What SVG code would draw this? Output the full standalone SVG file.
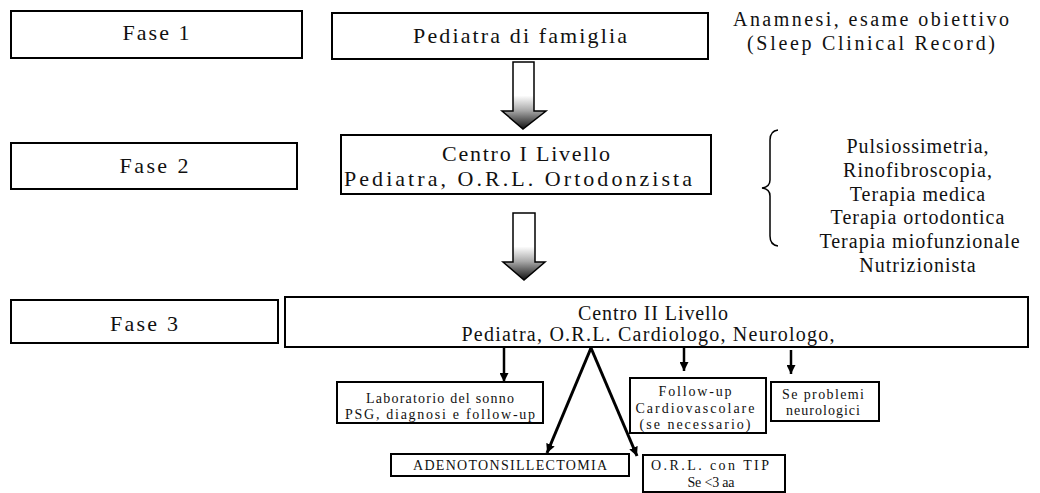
<svg xmlns="http://www.w3.org/2000/svg" width="1040" height="493" viewBox="0 0 1040 493">
<style>
.box{fill:#fff;stroke:#000;stroke-width:2}
.t{font-family:"Liberation Serif","Times New Roman",serif;fill:#111;text-anchor:middle}
.big{font-size:22px}
.mid{font-size:20px}
.sm{font-size:14px}
.ln{fill:none;stroke:#000;stroke-width:2.5}
.leg{fill:none;stroke:#000;stroke-width:3}
.fat{stroke:#000;stroke-width:1.5}
</style>
<defs>
<linearGradient id="gr" x1="0" y1="0" x2="0" y2="1">
<stop offset="0" stop-color="#fff"/>
<stop offset="0.5" stop-color="#fff"/>
<stop offset="0.72" stop-color="#aaa"/>
<stop offset="1" stop-color="#111"/>
</linearGradient>
<marker id="ah" viewBox="0 0 10 10" refX="10" refY="5" markerWidth="9" markerHeight="9" markerUnits="userSpaceOnUse" orient="auto">
<path d="M0,0 L10,5 L0,10 z" fill="#000"/>
</marker>
</defs>
<rect width="1040" height="493" fill="#fff"/>

<g id="fase1">
<rect class="box" x="11" y="11" width="291" height="47"/>
<text class="t big" x="156" y="40" textLength="67">Fase 1</text>
</g>
<g id="pediatra-famiglia">
<rect class="box" x="332" y="13" width="376" height="46"/>
<text class="t big" x="520" y="43" textLength="214">Pediatra di famiglia</text>
</g>
<g id="anamnesi">
<text class="t mid" x="871" y="26" textLength="276">Anamnesi, esame obiettivo</text>
<text class="t mid" x="871" y="50" textLength="248">(Sleep Clinical Record)</text>
</g>

<g id="fase2">
<rect class="box" x="11" y="143" width="286" height="46"/>
<text class="t big" x="154" y="173" textLength="69">Fase 2</text>
</g>
<g id="centro1">
<rect class="box" x="341" y="135" width="370" height="59"/>
<text class="t big" x="526" y="161" textLength="168">Centro I Livello</text>
<text class="t big" x="518" y="186" textLength="348">Pediatra, O.R.L. Ortodonzista</text>
</g>
<g id="servizi-livello1">
<path d="M778,130 Q770,131 770,140 L770,180 Q770,187 762,188 Q770,189 770,196 L770,236 Q770,245 778,246" fill="none" stroke="#000" stroke-width="1.5"/>
<text class="t mid" x="918" y="153" letter-spacing="1">Pulsiossimetria,</text>
<text class="t mid" x="918" y="177" letter-spacing="1">Rinofibroscopia,</text>
<text class="t mid" x="918" y="201" letter-spacing="1">Terapia medica</text>
<text class="t mid" x="918" y="224" letter-spacing="1">Terapia ortodontica</text>
<text class="t mid" x="920" y="248" letter-spacing="1">Terapia miofunzionale</text>
<text class="t mid" x="918" y="272" letter-spacing="1">Nutrizionista</text>
</g>

<g id="fase3">
<rect class="box" x="11" y="300" width="267" height="43"/>
<text class="t big" x="144" y="331" textLength="68">Fase 3</text>
</g>
<g id="centro2">
<rect class="box" x="285" y="297" width="743" height="50"/>
<text class="t mid" x="653" y="320" textLength="150">Centro II Livello</text>
<text class="t mid" x="648" y="341" textLength="373">Pediatra, O.R.L.  Cardiologo, Neurologo,</text>
</g>

<g id="laboratorio">
<rect class="box" x="337" y="382" width="206" height="41"/>
<text class="t sm" x="440" y="403" textLength="148">Laboratorio del sonno</text>
<text class="t sm" x="440" y="419" textLength="190">PSG, diagnosi e follow-up</text>
</g>
<g id="followup">
<rect class="box" x="630" y="378" width="136" height="55"/>
<text class="t sm" x="695" y="396" textLength="73">Follow-up</text>
<text class="t sm" x="695" y="413" textLength="119">Cardiovascolare</text>
<text class="t sm" x="695" y="429" textLength="111">(se necessario)</text>
</g>
<g id="neuro">
<rect class="box" x="771" y="382" width="108" height="39"/>
<text class="t sm" x="823" y="399" textLength="82">Se problemi</text>
<text class="t sm" x="823" y="415" textLength="74">neurologici</text>
</g>
<g id="adenotonsillectomia">
<rect class="box" x="391" y="454" width="238" height="22"/>
<text class="t sm" x="510" y="470" textLength="194">ADENOTONSILLECTOMIA</text>
</g>
<g id="orl-tip">
<rect class="box" x="643" y="455" width="142" height="37"/>
<text class="t sm" x="710" y="470" textLength="118">O.R.L.  con TIP</text>
<text class="t sm" x="711" y="487" textLength="47">Se &lt;3 aa</text>
</g>

<g id="connectors">
<polygon class="fat" fill="url(#gr)" points="513,62 534,62 534,111 546,111 523,129 502,111 513,111"/>
<polygon class="fat" fill="url(#gr)" points="513,213 535,213 535,262 545,262 524,280 503,262 513,262"/>
<path class="ln" d="M504,347 L504,382" marker-end="url(#ah)"/>
<path class="leg" d="M591,348 L547,453" marker-end="url(#ah)"/>
<path class="leg" d="M591,348 L637,456" marker-end="url(#ah)"/>
<path class="ln" d="M684,348 L684,371" marker-end="url(#ah)"/>
<path class="ln" d="M791,350 L791,374" marker-end="url(#ah)"/>
</g>
</svg>
